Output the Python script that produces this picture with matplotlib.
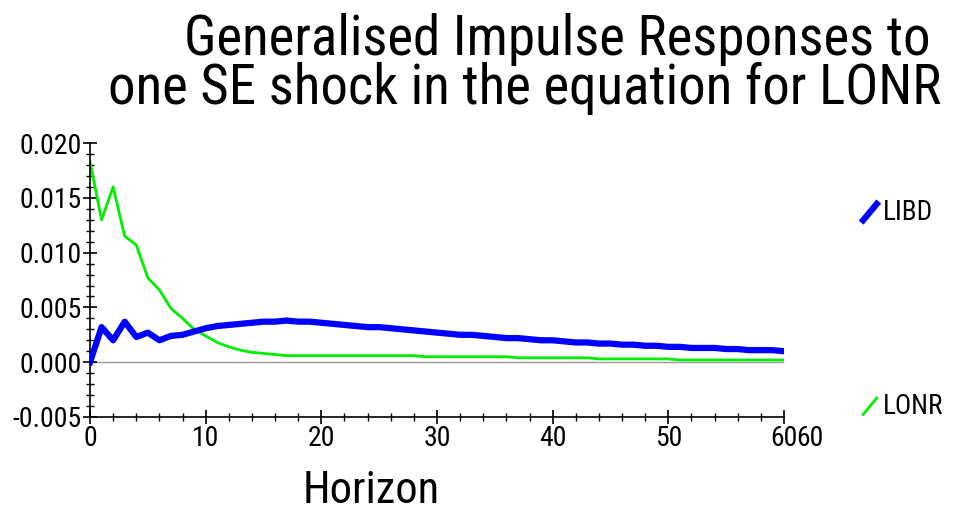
import matplotlib
matplotlib.use("Agg")
import matplotlib.pyplot as plt
from matplotlib.ticker import MultipleLocator, FormatStrFormatter
from matplotlib.lines import Line2D

plt.rcParams['font.family'] = 'sans-serif'
plt.rcParams['font.sans-serif'] = ['Roboto Condensed', 'Liberation Sans', 'DejaVu Sans']

# Data
horizon = list(range(61))

libd = [0.0000, 0.0032, 0.0020, 0.0037, 0.0023, 0.0027, 0.0020, 0.0024, 0.0025, 0.0028,
        0.0031, 0.0033, 0.0034, 0.0035, 0.0036, 0.0037, 0.0037, 0.0038, 0.0037, 0.0037,
        0.0036, 0.0035, 0.0034, 0.0033, 0.0032, 0.0032, 0.0031, 0.0030, 0.0029, 0.0028,
        0.0027, 0.0026, 0.0025, 0.0025, 0.0024, 0.0023, 0.0022, 0.0022, 0.0021, 0.0020,
        0.0020, 0.0019, 0.0018, 0.0018, 0.0017, 0.0017, 0.0016, 0.0016, 0.0015, 0.0015,
        0.0014, 0.0014, 0.0013, 0.0013, 0.0013, 0.0012, 0.0012, 0.0011, 0.0011, 0.0011,
        0.0010]

lonr = [0.0183, 0.0130, 0.0160, 0.0115, 0.0107, 0.0077, 0.0066, 0.0049, 0.0040, 0.0030,
        0.0024, 0.0018, 0.0014, 0.0011, 0.0009, 0.0008, 0.0007, 0.0006, 0.0006, 0.0006,
        0.0006, 0.0006, 0.0006, 0.0006, 0.0006, 0.0006, 0.0006, 0.0006, 0.0006, 0.0005,
        0.0005, 0.0005, 0.0005, 0.0005, 0.0005, 0.0005, 0.0005, 0.0004, 0.0004, 0.0004,
        0.0004, 0.0004, 0.0004, 0.0004, 0.0003, 0.0003, 0.0003, 0.0003, 0.0003, 0.0003,
        0.0003, 0.0002, 0.0002, 0.0002, 0.0002, 0.0002, 0.0002, 0.0002, 0.0002, 0.0002,
        0.0002]

series_names = ["LIBD", "LONR"]
series_colors = ["#0000ff", "#00ee00"]

fig = plt.figure(figsize=(9.72, 5.11), dpi=100)
ax = fig.add_axes([0.0926, 0.184, 0.714, 0.536])

ax.axhline(0, color="#999999", linewidth=1.0, zorder=1)
ax.plot(horizon, libd, color=series_colors[0], linewidth=4.5, zorder=3)
ax.plot(horizon, lonr, color=series_colors[1], linewidth=2.0, zorder=2)

ax.set_xlim(0, 60)
ax.set_ylim(-0.005, 0.020)
ax.xaxis.set_major_locator(MultipleLocator(10))
ax.xaxis.set_minor_locator(MultipleLocator(2))
ax.yaxis.set_major_locator(MultipleLocator(0.005))
ax.yaxis.set_minor_locator(MultipleLocator(0.001))
ax.yaxis.set_major_formatter(FormatStrFormatter("%.3f"))

for s in ["top", "right"]:
    ax.spines[s].set_visible(False)
for s in ["left", "bottom"]:
    ax.spines[s].set_linewidth(1.2)

ax.tick_params(axis="both", which="major", direction="inout", length=10, width=1.2,
               labelsize=20, pad=1)
ax.tick_params(axis="both", which="minor", direction="inout", length=6, width=1.0)

# stray duplicated end label from the original ("6060")
ax.annotate("60", xy=(60, -0.005), xytext=(8.5, -6), textcoords="offset points",
            fontsize=20, ha="left", va="top")

ax.text(0.405, -0.195, "Horizon", transform=ax.transAxes, fontsize=32,
        ha="center", va="top")

fig.text(0.5735, 0.975, "Generalised Impulse Responses to", fontsize=39.5,
         ha="center", va="top")
fig.text(0.540, 0.878, "one SE shock in the equation for LONR", fontsize=39.5,
         ha="center", va="top")

# legend: short diagonal strokes with labels
leg_y = [0.585, 0.205]
leg_w = [4.5, 2.0]
for name, col, yy, lw in zip(series_names, series_colors, leg_y, leg_w):
    fig.add_artist(Line2D([0.888, 0.902], [yy - 0.016, yy + 0.016], color=col,
                          linewidth=lw, transform=fig.transFigure))
    fig.text(0.908, yy, name, fontsize=19.5, ha="left", va="center")

fig.savefig("out.png", dpi=100)
